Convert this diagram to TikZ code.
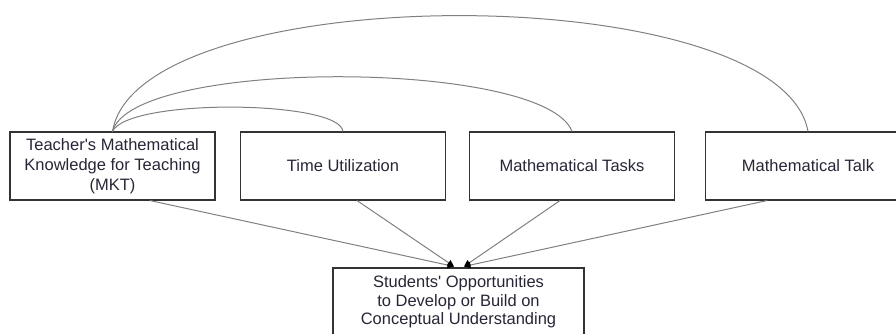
\documentclass[tikz,border=0pt]{standalone}
\usepackage{fontspec}
\setmainfont{Liberation Sans}
\usetikzlibrary{arrows.meta,calc}
\definecolor{txt}{HTML}{262636}
\definecolor{edge}{HTML}{333333}
\definecolor{conn}{HTML}{808080}
\tikzset{
  box/.style={draw=edge, line width=1.1pt, minimum width=205pt, minimum height=68pt,
    align=center, inner sep=0pt, text=txt, font=\fontsize{16.5}{20}\selectfont},
  arc/.style={draw=conn, line width=1pt},
  feed/.style={draw=conn, line width=1pt, -{Triangle[length=6.5pt,width=6.5pt,color=black]}}
}
\begin{document}
\begin{tikzpicture}[x=1pt,y=-1pt]
\useasboundingbox (0,0) rectangle (896,334);
\clip (0,0) rectangle (896,334);
\node[box] (b1) at (112.5,166) {Teacher\textquotesingle s Mathematical\\Knowledge for Teaching\\(MKT)};
\node[box] (b2) at (343,166) {Time Utilization};
\node[box] (b3) at (572,166) {Mathematical Tasks};
\node[box] (b4) at (808,166) {Mathematical Talk};
\node[box, minimum width=251pt, font=\fontsize{16.5}{18.5}\selectfont] (bot) at (458.5,302) {Students\textquotesingle\ Opportunities\\to Develop or Build on\\Conceptual Understanding};
% arcs
\draw[arc] (b1.north) .. controls (128,98) and (340,100) .. (b2.north);
\draw[arc] (b1.north) .. controls (132,58) and (545,59) .. (b3.north);
\draw[arc] (b1.north) .. controls (138,-23) and (780,-23) .. (b4.north);
% arrows
\coordinate (h1) at ($(bot.north)+(-4.5,-1)$);
\coordinate (h2) at ($(bot.north)+(5.5,-1)$);
\draw[feed] ($(b1.south)+(37.5,0)$) -- (h1);
\draw[feed] ($(b2.south)+(14,0)$) -- (h1);
\draw[feed] ($(b3.south)+(-12,0)$) -- (h2);
\draw[feed] ($(b4.south)+(-41,0)$) -- (h2);
\end{tikzpicture}
\end{document}
